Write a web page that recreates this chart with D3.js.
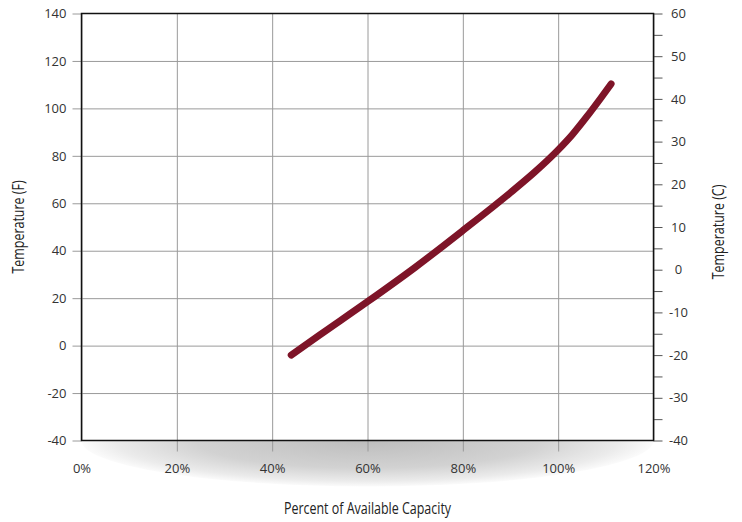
<!DOCTYPE html>
<html>
<head>
<meta charset="utf-8">
<script src="https://cdn.jsdelivr.net/npm/d3@7"></script>
<style>
  html, body { margin: 0; padding: 0; background: #fff; }
  svg { display: block; }
  .tick text { font-family: "Open Sans", "Noto Sans", sans-serif; font-size: 13px; fill: #333; }
  .title { font-family: "Open Sans", "Noto Sans", sans-serif; font-size: 16px; fill: #222; }
</style>
</head>
<body>
<svg id="chart" width="742" height="522"></svg>
<script>
// ---- data ----
const capacityPct = [44, 50, 60, 70, 80, 90, 95, 100, 103, 106, 109, 111.1];
const tempF       = [-4, 4.5, 18.5, 33, 48.5, 64.5, 73, 82.5, 89, 96.5, 104.5, 110.3];
const xTicks = [0, 20, 40, 60, 80, 100, 120];
const fTicks = [-40, -20, 0, 20, 40, 60, 80, 100, 120, 140];
const cTicks = [-40, -35, -30, -25, -20, -15, -10, -5, 0, 5, 10, 15, 20, 25, 30, 35, 40, 45, 50, 55, 60];
const xTitle = "Percent of Available Capacity";
const yLeftTitle = "Temperature (F)";
const yRightTitle = "Temperature (C)";

// ---- layout ----
const L = 81.5, R = 653.5, T = 13.5, B = 440.5;
const svg = d3.select("#chart");

const x = d3.scaleLinear().domain([0, 120]).range([L, R]);
const yF = d3.scaleLinear().domain([-40, 140]).range([B, T]);
const yC = d3.scaleLinear().domain([-40, 60]).range([B, T]);

// shadow under the plot
const defs = svg.append("defs");
const rg = defs.append("radialGradient").attr("id", "shadow")
  .attr("cx", 0.5).attr("cy", 0.5).attr("r", 0.5).attr("fx", 0.5).attr("fy", 0.5);
rg.append("stop").attr("offset", 0).attr("stop-color", "#bdbdbd");
rg.append("stop").attr("offset", 0.6).attr("stop-color", "#d2d2d2");
rg.append("stop").attr("offset", 0.88).attr("stop-color", "#ebebeb");
rg.append("stop").attr("offset", 1).attr("stop-color", "#fbfbfb");
svg.append("ellipse")
  .attr("cx", (L + R) / 2).attr("cy", B)
  .attr("rx", (R - L) / 2).attr("ry", 46)
  .attr("fill", "url(#shadow)");

// plot background
svg.append("rect").attr("x", L).attr("y", T).attr("width", R - L).attr("height", B - T).attr("fill", "#fff");

// x axis with grid
const gx = svg.append("g").attr("transform", `translate(0,${B + 11})`)
  .call(d3.axisBottom(x).tickValues(xTicks).tickSize(-(B - T + 11)).tickPadding(12).tickFormat(d => d + "%"));
gx.select(".domain").remove();
gx.selectAll(".tick line").attr("stroke", "#9a9a9a").attr("stroke-width", 1)
  .filter(d => d === 0 || d === 120).attr("y1", -11);

// left axis with grid
const gy = svg.append("g").attr("transform", `translate(${L - 9},0)`)
  .call(d3.axisLeft(yF).tickValues(fTicks).tickSize(-(R - L + 9)).tickPadding(6).tickFormat(d => String(d)));
gy.select(".domain").remove();
gy.selectAll(".tick line").attr("stroke", "#9a9a9a").attr("stroke-width", 1)
  .filter(d => d === -40 || d === 140).attr("x2", 9);
gy.selectAll(".tick text").attr("x", -6);

// right axis
const gr = svg.append("g").attr("transform", `translate(${R},0)`)
  .call(d3.axisRight(yC).tickValues(cTicks).tickSize(9).tickFormat(d => d % 10 === 0 ? String(d) : ""));
gr.select(".domain").remove();
gr.selectAll(".tick line").attr("stroke", "#555").attr("stroke-width", 1);
gr.selectAll(".tick text").attr("x", 25).attr("text-anchor", "middle");

// frame
svg.append("rect").attr("x", L).attr("y", T).attr("width", R - L).attr("height", B - T)
  .attr("fill", "none").attr("stroke", "#111").attr("stroke-width", 1.5);

// curve
const pts = capacityPct.map((c, i) => [c, tempF[i]]);
svg.append("path")
  .datum(pts)
  .attr("fill", "none")
  .attr("stroke", "#7e1428")
  .attr("stroke-width", 7)
  .attr("stroke-linecap", "round")
  .attr("stroke-linejoin", "round")
  .attr("d", d3.line().x(d => x(d[0])).y(d => yF(d[1])).curve(d3.curveMonotoneX));

// titles (condensed look)
const sx = 0.78;
svg.append("text").attr("class", "title")
  .attr("transform", `translate(${(L + R) / 2},514) scale(${sx},1)`).attr("text-anchor", "middle").text(xTitle);
svg.append("text").attr("class", "title")
  .attr("transform", `translate(24,227) rotate(-90) scale(${sx},1)`).attr("text-anchor", "middle").text(yLeftTitle);
svg.append("text").attr("class", "title")
  .attr("transform", `translate(724,232) rotate(-90) scale(${sx},1)`).attr("text-anchor", "middle").text(yRightTitle);
</script>
</body>
</html>
